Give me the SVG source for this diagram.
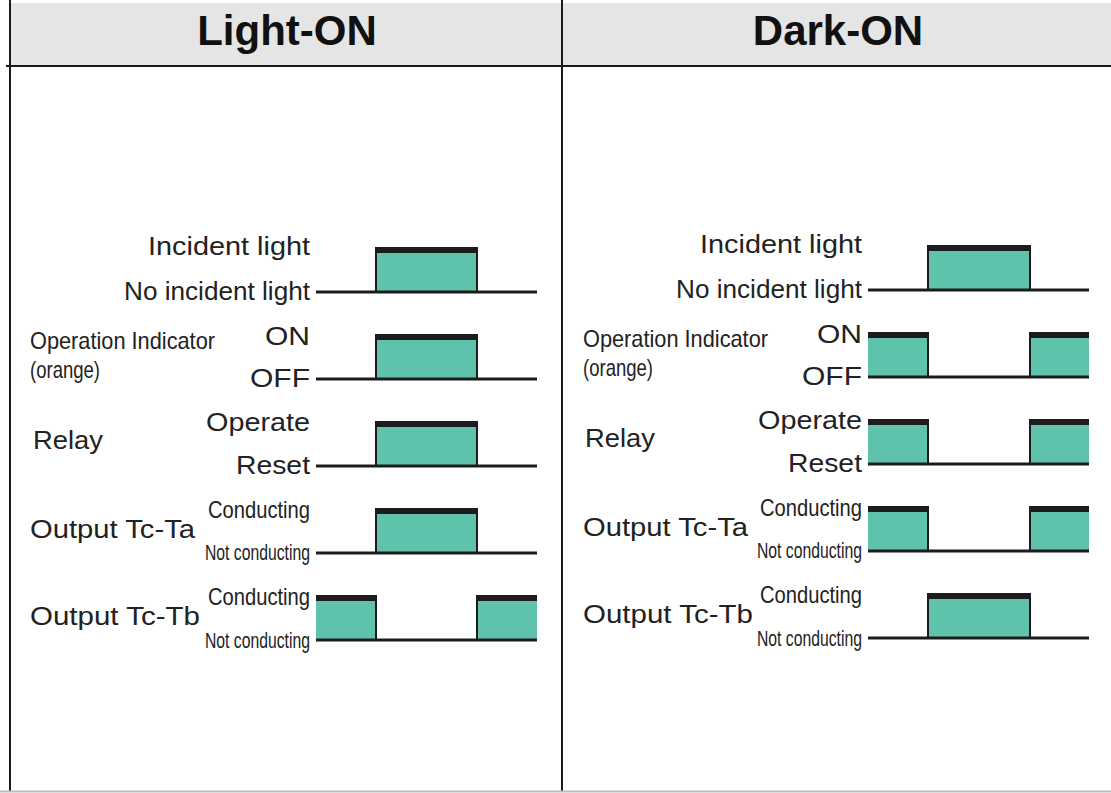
<svg xmlns="http://www.w3.org/2000/svg" width="1111" height="793" viewBox="0 0 1111 793">
<style>
.hdr{font-family:"Liberation Sans",Arial,sans-serif;font-weight:bold;font-size:42px;fill:#111;text-anchor:middle}
.t{font-family:"Liberation Sans",Arial,sans-serif;font-size:26px;fill:#222}
.r{text-anchor:end}
.n{font-family:"Liberation Sans",Arial,sans-serif;font-size:24px;fill:#222}
.s{font-family:"Liberation Sans",Arial,sans-serif;font-size:22px;fill:#222}
.teal{fill:#5ec2ac}
.bar{fill:#1c1c1c}
.edge{stroke:#1c1c1c;stroke-width:2;fill:none}
.base{stroke:#1c1c1c;stroke-width:3;fill:none}
.frame{stroke:#1a1a1a;stroke-width:2;fill:none}
</style>
<rect x="0" y="0" width="1111" height="793" fill="#fff"/>
<rect x="10" y="3" width="1101" height="62" fill="#e5e5e5"/>
<g id="frame">
<line class="frame" x1="6" y1="66" x2="1111" y2="66" stroke-width="3"/>
<line class="frame" x1="10" y1="0" x2="10" y2="791"/>
<line class="frame" x1="562" y1="0" x2="562" y2="791"/>
<line x1="0" y1="791.5" x2="1111" y2="791.5" stroke="#bbb" stroke-width="2"/>
</g>
<g id="header-light"><text class="hdr" x="287" y="45">Light-ON</text></g>
<g id="header-dark"><text class="hdr" x="838" y="45">Dark-ON</text></g>

<g id="light-on">
<g id="l-incident">
<text class="t r" x="310" y="255" textLength="162" lengthAdjust="spacingAndGlyphs">Incident light</text>
<text class="t r" x="310" y="300" textLength="186" lengthAdjust="spacingAndGlyphs">No incident light</text>
<g transform="translate(0,292)">
<rect class="teal" x="376" y="-39" width="101" height="39"/>
<rect class="bar" x="376" y="-45" width="101" height="6"/>
<path class="edge" d="M376,-45V0M477,-45V0"/>
<path class="base" d="M316,0H537"/>
</g>
</g>
<g id="l-indicator">
<text class="n" x="30" y="349" textLength="185" lengthAdjust="spacingAndGlyphs">Operation Indicator</text>
<text class="n" x="30" y="378" textLength="70" lengthAdjust="spacingAndGlyphs">(orange)</text>
<text class="t r" x="310" y="345" textLength="45" lengthAdjust="spacingAndGlyphs">ON</text>
<text class="t r" x="310" y="387" textLength="60" lengthAdjust="spacingAndGlyphs">OFF</text>
<g transform="translate(0,379)">
<rect class="teal" x="376" y="-39" width="101" height="39"/>
<rect class="bar" x="376" y="-45" width="101" height="6"/>
<path class="edge" d="M376,-45V0M477,-45V0"/>
<path class="base" d="M316,0H537"/>
</g>
</g>
<g id="l-relay">
<text class="t" x="33" y="449" textLength="70" lengthAdjust="spacingAndGlyphs">Relay</text>
<text class="t r" x="310" y="431" textLength="104" lengthAdjust="spacingAndGlyphs">Operate</text>
<text class="t r" x="310" y="474" textLength="74" lengthAdjust="spacingAndGlyphs">Reset</text>
<g transform="translate(0,466)">
<rect class="teal" x="376" y="-39" width="101" height="39"/>
<rect class="bar" x="376" y="-45" width="101" height="6"/>
<path class="edge" d="M376,-45V0M477,-45V0"/>
<path class="base" d="M316,0H537"/>
</g>
</g>
<g id="l-tcta">
<text class="t" x="30" y="538" textLength="165" lengthAdjust="spacingAndGlyphs">Output Tc-Ta</text>
<text class="n r" x="310" y="518" textLength="102" lengthAdjust="spacingAndGlyphs">Conducting</text>
<text class="s r" x="310" y="560" textLength="105" lengthAdjust="spacingAndGlyphs">Not conducting</text>
<g transform="translate(0,553)">
<rect class="teal" x="376" y="-39" width="101" height="39"/>
<rect class="bar" x="376" y="-45" width="101" height="6"/>
<path class="edge" d="M376,-45V0M477,-45V0"/>
<path class="base" d="M316,0H537"/>
</g>
</g>
<g id="l-tctb">
<text class="t" x="30" y="625" textLength="170" lengthAdjust="spacingAndGlyphs">Output Tc-Tb</text>
<text class="n r" x="310" y="605" textLength="102" lengthAdjust="spacingAndGlyphs">Conducting</text>
<text class="s r" x="310" y="648" textLength="105" lengthAdjust="spacingAndGlyphs">Not conducting</text>
<g transform="translate(0,640)">
<rect class="teal" x="316" y="-39" width="60" height="39"/>
<rect class="bar" x="316" y="-45" width="60" height="6"/>
<rect class="teal" x="477" y="-39" width="60" height="39"/>
<rect class="bar" x="477" y="-45" width="60" height="6"/>
<path class="edge" d="M376,-45V0M477,-45V0"/>
<path class="base" d="M316,0H537"/>
</g>
</g>
</g>

<g id="dark-on">
<g id="d-incident">
<text class="t r" x="862" y="253" textLength="162" lengthAdjust="spacingAndGlyphs">Incident light</text>
<text class="t r" x="862" y="298" textLength="186" lengthAdjust="spacingAndGlyphs">No incident light</text>
<g transform="translate(0,290)">
<rect class="teal" x="928" y="-39" width="102" height="39"/>
<rect class="bar" x="928" y="-45" width="102" height="6"/>
<path class="edge" d="M928,-45V0M1030,-45V0"/>
<path class="base" d="M868,0H1089"/>
</g>
</g>
<g id="d-indicator">
<text class="n" x="583" y="347" textLength="185" lengthAdjust="spacingAndGlyphs">Operation Indicator</text>
<text class="n" x="583" y="376" textLength="70" lengthAdjust="spacingAndGlyphs">(orange)</text>
<text class="t r" x="862" y="343" textLength="45" lengthAdjust="spacingAndGlyphs">ON</text>
<text class="t r" x="862" y="385" textLength="60" lengthAdjust="spacingAndGlyphs">OFF</text>
<g transform="translate(0,377)">
<rect class="teal" x="868" y="-39" width="60" height="39"/>
<rect class="bar" x="868" y="-45" width="60" height="6"/>
<rect class="teal" x="1030" y="-39" width="59" height="39"/>
<rect class="bar" x="1030" y="-45" width="59" height="6"/>
<path class="edge" d="M928,-45V0M1030,-45V0"/>
<path class="base" d="M868,0H1089"/>
</g>
</g>
<g id="d-relay">
<text class="t" x="585" y="447" textLength="70" lengthAdjust="spacingAndGlyphs">Relay</text>
<text class="t r" x="862" y="429" textLength="104" lengthAdjust="spacingAndGlyphs">Operate</text>
<text class="t r" x="862" y="472" textLength="74" lengthAdjust="spacingAndGlyphs">Reset</text>
<g transform="translate(0,464)">
<rect class="teal" x="868" y="-39" width="60" height="39"/>
<rect class="bar" x="868" y="-45" width="60" height="6"/>
<rect class="teal" x="1030" y="-39" width="59" height="39"/>
<rect class="bar" x="1030" y="-45" width="59" height="6"/>
<path class="edge" d="M928,-45V0M1030,-45V0"/>
<path class="base" d="M868,0H1089"/>
</g>
</g>
<g id="d-tcta">
<text class="t" x="583" y="536" textLength="165" lengthAdjust="spacingAndGlyphs">Output Tc-Ta</text>
<text class="n r" x="862" y="516" textLength="102" lengthAdjust="spacingAndGlyphs">Conducting</text>
<text class="s r" x="862" y="558" textLength="105" lengthAdjust="spacingAndGlyphs">Not conducting</text>
<g transform="translate(0,551)">
<rect class="teal" x="868" y="-39" width="60" height="39"/>
<rect class="bar" x="868" y="-45" width="60" height="6"/>
<rect class="teal" x="1030" y="-39" width="59" height="39"/>
<rect class="bar" x="1030" y="-45" width="59" height="6"/>
<path class="edge" d="M928,-45V0M1030,-45V0"/>
<path class="base" d="M868,0H1089"/>
</g>
</g>
<g id="d-tctb">
<text class="t" x="583" y="623" textLength="170" lengthAdjust="spacingAndGlyphs">Output Tc-Tb</text>
<text class="n r" x="862" y="603" textLength="102" lengthAdjust="spacingAndGlyphs">Conducting</text>
<text class="s r" x="862" y="646" textLength="105" lengthAdjust="spacingAndGlyphs">Not conducting</text>
<g transform="translate(0,638)">
<rect class="teal" x="928" y="-39" width="102" height="39"/>
<rect class="bar" x="928" y="-45" width="102" height="6"/>
<path class="edge" d="M928,-45V0M1030,-45V0"/>
<path class="base" d="M868,0H1089"/>
</g>
</g>
</g>
</svg>
